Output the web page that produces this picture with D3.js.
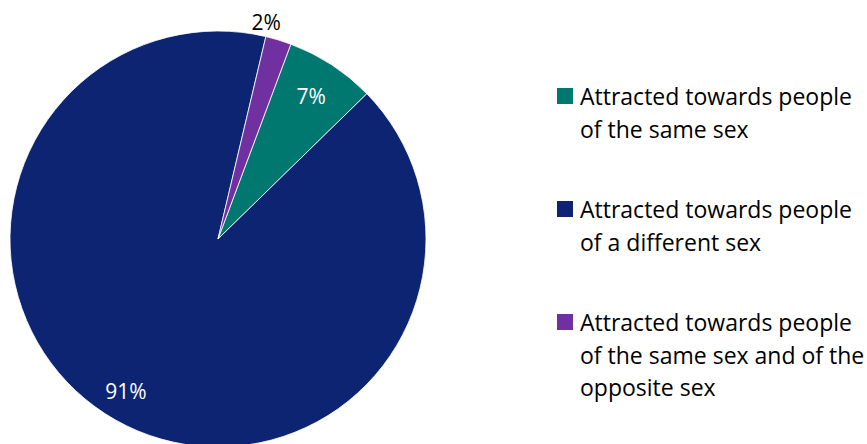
<!DOCTYPE html>
<html>
<head>
<meta charset="utf-8">
<script src="https://cdn.jsdelivr.net/npm/d3@7"></script>
<style>
  html, body { margin: 0; padding: 0; background: #fff; }
  svg { display: block; }
  text { font-family: "Open Sans", Lato, sans-serif; }
</style>
</head>
<body>
<svg id="chart" width="867" height="444"></svg>
<script>
// Share of respondents by attraction
const categories = [
  ["Attracted towards people", "of the same sex"],
  ["Attracted towards people", "of a different sex"],
  ["Attracted towards people", "of the same sex and of the", "opposite sex"]
];
const values = [7, 91, 2];
const labels = ["7%", "91%", "2%"];
const colors = ["#00776F", "#0D2472", "#7030A0"];

const svg = d3.select("#chart");
const cx = 218, cy = 239, r = 208;
const startDeg = 20.5;

const pie = d3.pie().sort(null).value(d => d)
  .startAngle(startDeg * Math.PI / 180)
  .endAngle((startDeg + 360) * Math.PI / 180);
const arcs = pie(values);
const arc = d3.arc().innerRadius(0).outerRadius(r);

const g = svg.append("g").attr("transform", `translate(${cx},${cy})`);
g.selectAll("path").data(arcs).enter().append("path")
  .attr("d", arc)
  .attr("fill", (d, i) => colors[i])
  .attr("stroke", "#fff")
  .attr("stroke-width", 0.8);

// Data labels: inside for the larger slices, outside for the thin one
const labelPos = [
  { rad: 0.82 * r, color: "#fff", anchor: "middle", dx: 0 },
  { rad: 0.84 * r, color: "#fff", anchor: "middle", dx: -6 },
  { rad: 1.09 * r, color: "#000", anchor: "end", dx: -3 }
];
g.selectAll("text.lbl").data(arcs).enter().append("text")
  .attr("class", "lbl")
  .attr("transform", (d, i) => {
    const a = (d.startAngle + d.endAngle) / 2;
    const p = labelPos[i].rad;
    return `translate(${Math.sin(a) * p + labelPos[i].dx},${-Math.cos(a) * p})`;
  })
  .attr("text-anchor", (d, i) => labelPos[i].anchor)
  .attr("dominant-baseline", "central")
  .attr("fill", (d, i) => labelPos[i].color)
  .attr("font-size", 21)
  .text((d, i) => labels[i]);

// Legend
const legendTop = [96, 209, 322];
const lineH = 32.5;
const leg = svg.append("g");
categories.forEach((lines, i) => {
  const y0 = legendTop[i];
  leg.append("rect")
    .attr("x", 557).attr("y", y0 - 8)
    .attr("width", 16).attr("height", 16)
    .attr("fill", colors[i]);
  const t = leg.append("text")
    .attr("x", 580).attr("y", y0)
    .attr("dominant-baseline", "central")
    .attr("font-size", 23)
    .attr("fill", "#000");
  lines.forEach((ln, j) => {
    t.append("tspan").attr("x", 580).attr("y", y0 + j * lineH).text(ln);
  });
});
</script>
</body>
</html>
